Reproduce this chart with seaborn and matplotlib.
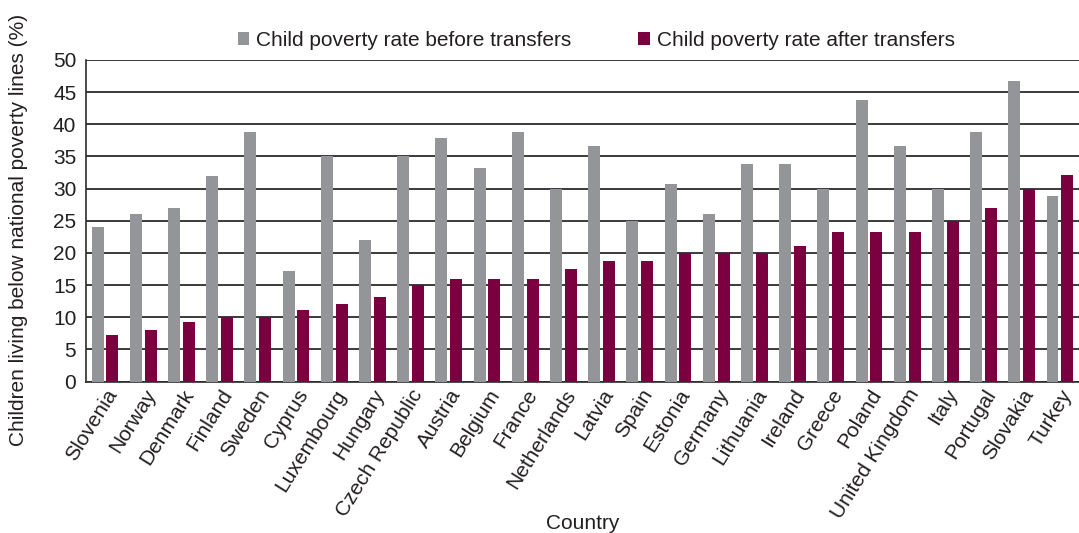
import pandas as pd
import numpy as np
import seaborn as sns
import matplotlib.pyplot as plt
from matplotlib.ticker import FixedLocator

# data
countries = ["Slovenia", "Norway", "Denmark", "Finland", "Sweden", "Cyprus",
             "Luxembourg", "Hungary", "Czech Republic", "Austria", "Belgium",
             "France", "Netherlands", "Latvia", "Spain", "Estonia", "Germany",
             "Lithuania", "Ireland", "Greece", "Poland", "United Kingdom",
             "Italy", "Portugal", "Slovakia", "Turkey"]
before = [24, 26, 27, 32, 38.8, 17.2, 35, 22, 35, 37.9, 33.2, 38.8, 30, 36.6,
          25, 30.7, 26, 33.8, 33.8, 30, 43.8, 36.6, 30, 38.8, 46.7, 28.9]
after = [7.2, 8, 9.2, 10, 10, 11.1, 12, 13.2, 15, 16, 16, 16, 17.5, 18.7,
         18.7, 20, 20, 20, 21.1, 23.3, 23.3, 23.3, 25, 27, 30, 32.1]
series = ["Child poverty rate before transfers", "Child poverty rate after transfers"]
colors = ["#939598", "#7b003f"]

df = pd.DataFrame({"Country": countries, series[0]: before, series[1]: after})
long = df.melt(id_vars="Country", var_name="Series", value_name="Rate")

sns.set_style("white")
plt.rcParams['font.family'] = ['Liberation Sans', 'DejaVu Sans']
fs = 15
txt = "#231f20"

fig = plt.figure(figsize=(10.79, 5.33), dpi=100)
ax = fig.add_axes([0.0797, 0.284, 0.9203, 0.6036])

sns.barplot(data=long, x="Country", y="Rate", hue="Series", hue_order=series,
            palette=colors, width=0.775, gap=0.19, saturation=1, ax=ax,
            legend=True, linewidth=0, zorder=3)

ax.set_ylim(0, 50)
ax.set_xlim(-0.5, len(countries) - 0.5)
ax.set_yticks(range(0, 51, 5))
ax.yaxis.grid(True, color="#2b2b2b", linewidth=1.3, zorder=0)
ax.set_axisbelow(True)
for s in ["top", "right"]:
    ax.spines[s].set_visible(False)
for s in ["left", "bottom"]:
    ax.spines[s].set_color("#2b2b2b")
    ax.spines[s].set_linewidth(1.2)

ax.tick_params(axis="y", labelsize=fs, length=0, pad=7, colors=txt)
ax.tick_params(axis="x", which="major", length=0, labelsize=fs, pad=3, colors=txt)
ax.xaxis.set_minor_locator(FixedLocator(np.arange(-0.5, len(countries), 1)))
ax.tick_params(axis="x", which="minor", length=5, width=1.2, color="#2b2b2b", direction="out")
plt.setp(ax.get_xticklabels(), rotation=58, ha="right", rotation_mode="anchor")

ax.set_ylabel("Children living below national poverty lines (%)", fontsize=fs, color=txt)
ax.yaxis.set_label_coords(-0.058, 0.472)
ax.set_xlabel("Country", fontsize=fs, color=txt)
ax.xaxis.set_label_coords(0.5, -0.411)

ax.legend(loc="center", bbox_to_anchor=(0.514, 1.06), ncol=2, frameon=False,
          fontsize=fs, handlelength=0.55, handleheight=0.55, handletextpad=0.35,
          columnspacing=3.2, borderaxespad=0)
for t in ax.get_legend().get_texts():
    t.set_color(txt)

fig.savefig("out.png", dpi=100)
